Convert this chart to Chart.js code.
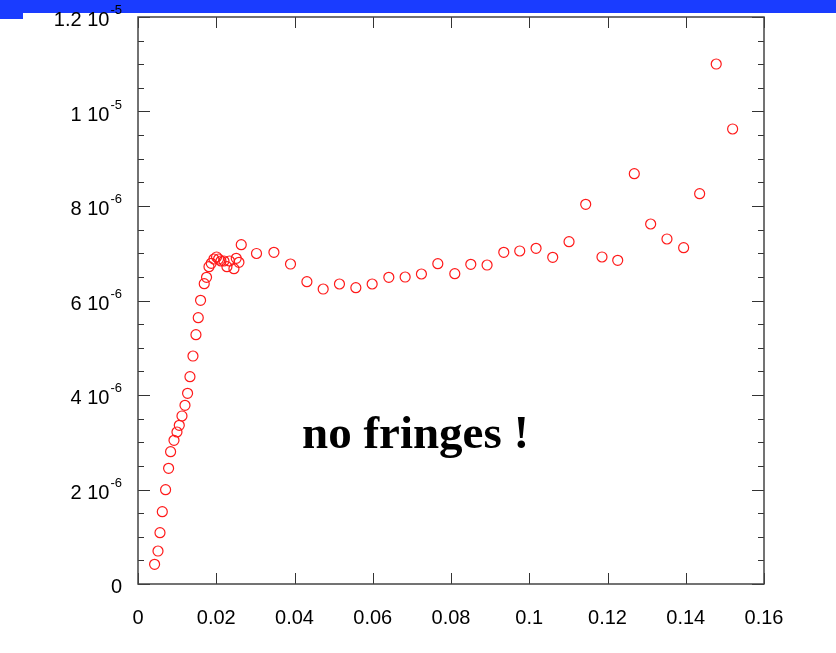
<!DOCTYPE html>
<html>
<head>
<meta charset="utf-8">
<script src="https://cdn.jsdelivr.net/npm/chart.js@4/dist/chart.umd.min.js"></script>
<style>
body { margin: 0; background: #fff; }
#wrap { position: relative; width: 836px; height: 653px; }
#bar { position: absolute; left: 0; top: 0; width: 836px; height: 13px; background: #1a3cff; }
#tab { position: absolute; left: 0; top: 13px; width: 23px; height: 6px; background: #1a3cff; }
canvas { position: absolute; left: 0; top: 0; }
</style>
</head>
<body>
<div id="wrap">
    <div id="bar"></div>
    <div id="tab"></div>
    <canvas id="chart" width="836" height="653"></canvas>
</div>
<script>
// x values and y values (y in units of 1e-6)
const xValues = [0.00424, 0.00511, 0.00562, 0.00621, 0.00705, 0.00782, 0.00833, 0.00920, 0.00996, 0.01055,
    0.01124, 0.01201, 0.01267, 0.01328, 0.01405, 0.01481, 0.01540, 0.01599, 0.01693, 0.01752,
    0.01814, 0.01872, 0.01941, 0.02008, 0.02059, 0.02120, 0.02197, 0.02273, 0.02340, 0.02452,
    0.02511, 0.02580, 0.02639, 0.03029, 0.03474, 0.03898, 0.04317, 0.04733, 0.05149, 0.05568,
    0.05985, 0.06411, 0.06828, 0.07244, 0.07663, 0.08097, 0.08506, 0.08922, 0.09349, 0.09757,
    0.10174, 0.10600, 0.11017, 0.11443, 0.11859, 0.12261, 0.12685, 0.13103, 0.13520, 0.13946,
    0.14355, 0.14779, 0.15198];
const yValues = [0.417, 0.698, 1.086, 1.530, 1.996, 2.449, 2.800, 3.041, 3.217, 3.359,
    3.556, 3.782, 4.036, 4.387, 4.825, 5.276, 5.636, 6.004, 6.356, 6.491,
    6.715, 6.787, 6.878, 6.921, 6.878, 6.836, 6.836, 6.715, 6.836, 6.673,
    6.893, 6.808, 7.181, 6.995, 7.020, 6.772, 6.398, 6.243, 6.349, 6.271,
    6.349, 6.491, 6.497, 6.561, 6.779, 6.567, 6.766, 6.751, 7.020, 7.048,
    7.105, 6.914, 7.244, 8.036, 6.921, 6.851, 8.684, 7.619, 7.302, 7.118,
    8.260, 11.005, 9.630];

const xTicks = [0, 0.02, 0.04, 0.06, 0.08, 0.1, 0.12, 0.14, 0.16];
const xTickLabels = ['0', '0.02', '0.04', '0.06', '0.08', '0.1', '0.12', '0.14', '0.16'];
const yTicks = [0, 2, 4, 6, 8, 10, 12];
const yTickMantissa = ['0', '2 10', '4 10', '6 10', '8 10', '1 10', '1.2 10'];
const yTickExponent = ['', '-6', '-6', '-6', '-6', '-5', '-5'];
const yMinorStep = 0.5;

const annotation = 'no fringes !';

const frame = {
    id: 'frame',
    afterDatasetsDraw(chart) {
        const ctx = chart.ctx;
        const a = chart.chartArea;
        const xs = chart.scales.x, ys = chart.scales.y;
        ctx.save();
        ctx.strokeStyle = '#333';
        ctx.lineWidth = 1;
        // x ticks, bottom and top, pointing inward
        xTicks.forEach(v => {
            const px = Math.round(xs.getPixelForValue(v)) + 0.5;
            ctx.beginPath();
            ctx.moveTo(px, a.bottom); ctx.lineTo(px, a.bottom - 11);
            ctx.moveTo(px, a.top); ctx.lineTo(px, a.top + 11);
            ctx.stroke();
        });
        // y ticks, left and right, major and minor
        for (let v = ys.min; v <= ys.max + 1e-9; v += yMinorStep) {
            const major = yTicks.some(t => Math.abs(t - v) < 1e-9);
            const len = major ? 12 : 6;
            const py = Math.round(ys.getPixelForValue(v)) + 0.5;
            ctx.beginPath();
            ctx.moveTo(a.left, py); ctx.lineTo(a.left + len, py);
            ctx.moveTo(a.right, py); ctx.lineTo(a.right - len, py);
            ctx.stroke();
        }
        // frame
        ctx.lineWidth = 1.5;
        ctx.strokeStyle = '#444';
        ctx.strokeRect(a.left, a.top, a.right - a.left, a.bottom - a.top);

        // x labels
        ctx.fillStyle = '#000';
        ctx.font = '20px "Liberation Sans", Arial, sans-serif';
        ctx.textAlign = 'center';
        ctx.textBaseline = 'alphabetic';
        xTicks.forEach((v, i) => {
            ctx.fillText(xTickLabels[i], xs.getPixelForValue(v), a.bottom + 40);
        });
        // y labels with superscript exponents
        const rightEdge = a.left - 16;
        yTicks.forEach((v, i) => {
            const py = ys.getPixelForValue(v);
            let x = rightEdge;
            if (yTickExponent[i]) {
                ctx.font = '13px "Liberation Sans", Arial, sans-serif';
                ctx.textAlign = 'right';
                ctx.fillText(yTickExponent[i], x, py - 3);
                x -= ctx.measureText(yTickExponent[i]).width + 1;
            }
            ctx.font = '20px "Liberation Sans", Arial, sans-serif';
            ctx.textAlign = 'right';
            ctx.fillText(yTickMantissa[i], x, py + 9);
        });
        // annotation
        ctx.font = 'bold 47px "Liberation Serif", "Times New Roman", serif';
        ctx.textAlign = 'left';
        ctx.fillText(annotation, 302, 448);
        ctx.restore();
    }
};

new Chart(document.getElementById('chart'), {
    type: 'scatter',
    data: {
        datasets: [{
            data: xValues.map((x, i) => ({ x: x, y: yValues[i] })),
            pointStyle: 'circle',
            pointRadius: 5,
            pointHoverRadius: 5,
            borderColor: '#ff1a1a',
            backgroundColor: 'rgba(0,0,0,0)',
            borderWidth: 1.2,
            showLine: false
        }]
    },
    options: {
        responsive: false,
        animation: false,
        devicePixelRatio: 1,
        layout: { padding: { top: 17, right: 72, left: 0, bottom: 0 } },
        plugins: { legend: { display: false }, tooltip: { enabled: false } },
        scales: {
            x: {
                type: 'linear', min: 0, max: 0.16,
                grid: { display: false }, border: { display: false },
                ticks: { display: false },
                afterFit: s => { s.height = 69; }
            },
            y: {
                type: 'linear', min: 0, max: 12,
                grid: { display: false }, border: { display: false },
                ticks: { display: false },
                afterFit: s => { s.width = 138; }
            }
        }
    },
    plugins: [frame]
});
</script>
</body>
</html>
